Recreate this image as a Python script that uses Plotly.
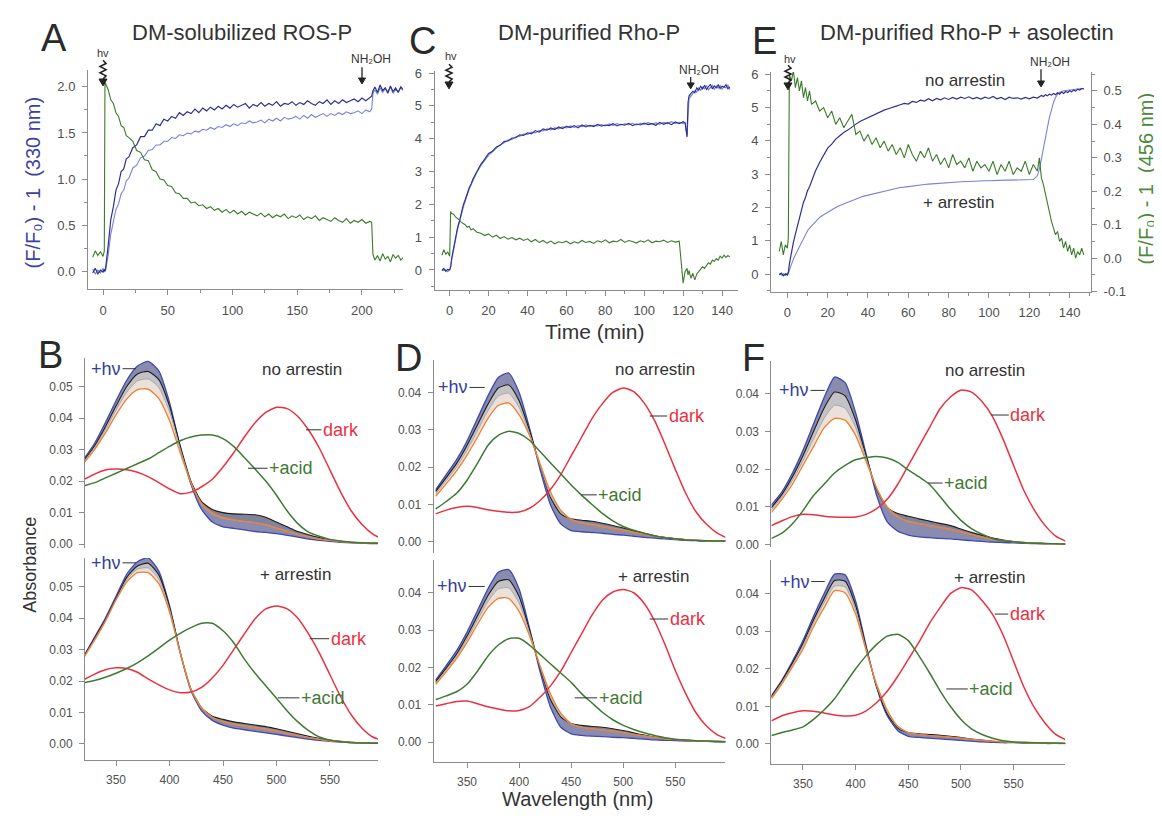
import plotly.graph_objects as go

W, H = 1162, 820
FONT = "Liberation Sans, Arial, sans-serif"
AX = "#8c8c8c"
TC = "#505050"
NAVY = "#2c318c"
LBLUE = "#7883d8"
GREEN = "#3b7b2c"
RED = "#e8323f"
ORANGE = "#f08030"
BLACK = "#1e1e1e"
GRAY = "#a8a8a8"
SBLUE = "#3f49b0"

# ---------------- time courses ----------------
a_time = [-8, -6, -4, -2, 0, 1, 1.5, 2, 4, 6,
          8, 10, 12, 14, 16, 18, 20, 23, 26, 29,
          32, 35, 38, 41, 44, 47, 50, 53, 56, 59,
          62, 65, 68, 71, 74, 77, 80, 83, 86, 89,
          92, 95, 98, 101, 104, 107, 110, 113, 116, 119,
          122, 125, 128, 131, 134, 137, 140, 143, 146, 149,
          152, 155, 158, 161, 164, 167, 170, 173, 176, 179,
          182, 185, 188, 191, 194, 197, 200, 203, 206, 207.5,
          208.5, 210, 212, 214, 216, 218, 220, 222, 224, 226,
          228, 230, 232]
a_dark = [-0.02, 0.03, -0.03, 0.01, -0.01, 0.02, 0.00, 0.03, 0.28, 0.56,
          0.70, 0.88, 0.95, 1.08, 1.11, 1.22, 1.24, 1.34, 1.37, 1.46,
          1.46, 1.53, 1.53, 1.60, 1.58, 1.65, 1.63, 1.68, 1.66, 1.72,
          1.69, 1.73, 1.71, 1.76, 1.72, 1.77, 1.74, 1.78, 1.75, 1.79,
          1.76, 1.80, 1.77, 1.81, 1.78, 1.80, 1.82, 1.77, 1.81, 1.79,
          1.83, 1.79, 1.82, 1.80, 1.84, 1.79, 1.82, 1.81, 1.84, 1.80,
          1.83, 1.81, 1.85, 1.82, 1.80, 1.84, 1.82, 1.86, 1.81, 1.85,
          1.82, 1.86, 1.83, 1.85, 1.87, 1.84, 1.88, 1.85, 1.88, 1.90,
          1.96, 2.00, 1.94, 2.02, 1.96, 1.99, 1.93, 2.01, 1.95, 1.99,
          1.94, 2.00, 1.97]
a_light = [0.02, -0.03, 0.01, -0.02, 0.03, -0.01, 0.00, 0.01, 0.18, 0.40,
           0.54, 0.67, 0.73, 0.84, 0.88, 0.98, 1.01, 1.12, 1.15, 1.23,
           1.25, 1.31, 1.32, 1.37, 1.37, 1.41, 1.41, 1.45, 1.44, 1.48,
           1.47, 1.50, 1.49, 1.52, 1.51, 1.54, 1.53, 1.56, 1.54, 1.57,
           1.56, 1.59, 1.57, 1.60, 1.58, 1.61, 1.60, 1.63, 1.61, 1.62,
           1.64, 1.61, 1.65, 1.63, 1.66, 1.63, 1.67, 1.65, 1.66, 1.68,
           1.65, 1.69, 1.66, 1.70, 1.67, 1.69, 1.71, 1.68, 1.71, 1.69,
           1.72, 1.70, 1.73, 1.71, 1.72, 1.74, 1.71, 1.75, 1.73, 1.76,
           1.93, 1.97, 1.92, 1.99, 1.94, 1.98, 1.95, 2.00, 1.93, 1.97,
           1.95, 1.99, 1.96]
a_green = [0.15, 0.22, 0.17, 0.21, 0.16, 0.22, 2.05, 2.03, 1.97, 1.86,
           1.82, 1.72, 1.68, 1.58, 1.56, 1.47, 1.45, 1.41, 1.31, 1.29,
           1.21, 1.20, 1.10, 1.08, 1.00, 0.99, 0.93, 0.92, 0.85, 0.84,
           0.79, 0.79, 0.74, 0.75, 0.71, 0.72, 0.68, 0.70, 0.66, 0.68,
           0.64, 0.67, 0.63, 0.66, 0.62, 0.65, 0.61, 0.64, 0.62, 0.60,
           0.63, 0.59, 0.62, 0.58, 0.61, 0.59, 0.62, 0.57, 0.60, 0.58,
           0.61, 0.56, 0.59, 0.57, 0.60, 0.55, 0.58, 0.56, 0.54, 0.58,
           0.55, 0.53, 0.57, 0.52, 0.55, 0.53, 0.56, 0.52, 0.54, 0.53,
           0.18, 0.12, 0.17, 0.11, 0.19, 0.13, 0.16, 0.10, 0.18, 0.14,
           0.17, 0.12, 0.15]

c_time = [-4, -3, -2, -1, 0, 0.5, 1, 2, 3, 4,
          5, 6, 7, 8, 9, 10, 11, 12, 14, 16,
          18, 20, 22, 24, 26, 28, 30, 32, 34, 36,
          38, 40, 42, 44, 46, 48, 50, 52, 54, 56,
          58, 60, 62, 64, 66, 68, 70, 72, 74, 76,
          78, 80, 82, 84, 86, 88, 90, 92, 94, 96,
          98, 100, 102, 104, 106, 108, 110, 112, 114, 116,
          118, 120, 121, 122, 122.5, 123, 124, 125, 126, 127,
          128, 129, 130, 131, 132, 133, 134, 135, 136, 137,
          138, 139, 140, 141, 142, 143, 144]
c_dark = [-0.02, 0.05, -0.04, 0.02, 0.00, 0.10, 0.35, 0.70, 1.00, 1.28,
          1.50, 1.75, 1.98, 2.15, 2.35, 2.50, 2.62, 2.78, 3.00, 3.22,
          3.38, 3.55, 3.62, 3.75, 3.80, 3.92, 3.93, 4.02, 4.03, 4.12,
          4.10, 4.18, 4.15, 4.25, 4.20, 4.30, 4.26, 4.33, 4.28, 4.36,
          4.31, 4.38, 4.34, 4.40, 4.33, 4.42, 4.36, 4.41, 4.37, 4.44,
          4.38, 4.42, 4.40, 4.46, 4.39, 4.44, 4.41, 4.47, 4.40, 4.45,
          4.42, 4.48, 4.43, 4.46, 4.41, 4.50, 4.44, 4.49, 4.43, 4.51,
          4.46, 4.52, 4.48, 4.05, 5.10, 5.30, 5.38, 5.45, 5.40, 5.55,
          5.48, 5.60, 5.52, 5.63, 5.50, 5.58, 5.66, 5.52, 5.61, 5.55,
          5.64, 5.53, 5.60, 5.57, 5.65, 5.52, 5.58]
c_light = [0.03, -0.02, 0.01, -0.05, 0.02, 0.08, 0.30, 0.65, 0.95, 1.22,
           1.45, 1.70, 1.92, 2.10, 2.30, 2.46, 2.60, 2.74, 2.98, 3.18,
           3.35, 3.50, 3.60, 3.70, 3.82, 3.88, 3.96, 3.98, 4.06, 4.08,
           4.14, 4.13, 4.20, 4.18, 4.25, 4.24, 4.30, 4.27, 4.33, 4.30,
           4.36, 4.33, 4.39, 4.35, 4.40, 4.37, 4.42, 4.38, 4.41, 4.39,
           4.43, 4.39, 4.45, 4.41, 4.46, 4.42, 4.45, 4.43, 4.47, 4.42,
           4.47, 4.44, 4.49, 4.45, 4.48, 4.44, 4.50, 4.46, 4.52, 4.47,
           4.50, 4.47, 4.50, 4.10, 5.00, 5.22, 5.30, 5.40, 5.46, 5.42,
           5.55, 5.47, 5.58, 5.52, 5.62, 5.49, 5.57, 5.63, 5.50, 5.60,
           5.54, 5.62, 5.51, 5.59, 5.55, 5.63, 5.50]
c_green = [0.45, 0.62, 0.48, 0.55, 0.42, 1.78, 1.72, 1.70, 1.62, 1.58,
           1.52, 1.45, 1.40, 1.38, 1.30, 1.33, 1.22, 1.26, 1.15, 1.12,
           1.05, 1.10, 1.00, 1.06, 0.96, 1.02, 0.94, 0.99, 0.92, 0.97,
           0.90, 0.95, 0.86, 0.93, 0.84, 0.90, 0.82, 0.88, 0.80, 0.86,
           0.83, 0.88, 0.80, 0.86, 0.82, 0.90, 0.84, 0.87, 0.81, 0.89,
           0.85, 0.92, 0.83, 0.88, 0.86, 0.93, 0.84, 0.90, 0.87, 0.82,
           0.89, 0.85, 0.92, 0.83, 0.88, 0.86, 0.91, 0.84, 0.89, 0.85,
           0.88, -0.40, -0.05, 0.05, -0.15, -0.02, -0.25, -0.10, -0.30, -0.12,
           -0.05, 0.02, 0.10, 0.05, 0.15, 0.22, 0.18, 0.30, 0.26, 0.35,
           0.30, 0.42, 0.36, 0.45, 0.38, 0.44, 0.40]

e_time = [-4, -3, -2, -1, 0, 0.5, 1, 2, 3, 4,
          5, 6, 7, 8, 9, 10, 11, 12, 14, 16,
          18, 20, 22, 24, 26, 28, 30, 32, 34, 36,
          38, 40, 42, 44, 46, 48, 50, 52, 54, 56,
          58, 60, 62, 64, 66, 68, 70, 72, 74, 76,
          78, 80, 82, 84, 86, 88, 90, 92, 94, 96,
          98, 100, 102, 104, 106, 108, 110, 112, 114, 116,
          118, 120, 122, 124, 125, 126, 127, 128, 129, 130,
          131, 132, 133, 134, 135, 136, 137, 138, 139, 140,
          141, 142, 143, 144, 145, 146, 147]
e_dark = [-0.02, 0.03, -0.05, 0.01, -0.03, 0.05, 0.30, 0.70, 0.95, 1.20,
          1.45, 1.68, 1.90, 2.15, 2.30, 2.50, 2.62, 2.80, 3.10, 3.35,
          3.55, 3.78, 3.90, 4.05, 4.15, 4.25, 4.32, 4.42, 4.50, 4.58,
          4.64, 4.70, 4.76, 4.82, 4.86, 4.92, 4.96, 5.01, 5.04, 5.08,
          5.12, 5.10, 5.18, 5.15, 5.22, 5.19, 5.26, 5.20, 5.27, 5.23,
          5.29, 5.24, 5.30, 5.25, 5.31, 5.27, 5.32, 5.26, 5.30, 5.25,
          5.31, 5.27, 5.33, 5.26, 5.30, 5.24, 5.31, 5.27, 5.29, 5.25,
          5.30, 5.26, 5.31, 5.28, 5.33, 5.36, 5.33, 5.38, 5.35, 5.40,
          5.37, 5.42, 5.38, 5.44, 5.40, 5.46, 5.42, 5.48, 5.45, 5.50,
          5.47, 5.52, 5.49, 5.55, 5.52, 5.57, 5.55]
e_light = [0.02, -0.03, 0.01, -0.04, 0.03, 0.00, 0.12, 0.30, 0.45, 0.58,
           0.70, 0.85, 0.98, 1.10, 1.22, 1.30, 1.38, 1.45, 1.58, 1.70,
           1.78, 1.86, 1.93, 2.00, 2.06, 2.11, 2.17, 2.21, 2.26, 2.30,
           2.34, 2.37, 2.40, 2.44, 2.46, 2.50, 2.52, 2.55, 2.57, 2.60,
           2.61, 2.63, 2.64, 2.66, 2.67, 2.69, 2.70, 2.71, 2.72, 2.74,
           2.74, 2.75, 2.76, 2.77, 2.77, 2.78, 2.78, 2.79, 2.79, 2.80,
           2.80, 2.80, 2.81, 2.81, 2.81, 2.82, 2.82, 2.82, 2.82, 2.83,
           2.83, 2.83, 2.84, 2.95, 3.15, 3.45, 3.80, 4.10, 4.40, 4.70,
           4.95, 5.15, 5.30, 5.40, 5.45, 5.48, 5.50, 5.51, 5.52, 5.53,
           5.53, 5.54, 5.55, 5.55, 5.56, 5.57, 5.57]
e_green = [0.02, 0.05, 0.01, 0.04, 0.03, 0.06, 0.55, 0.53, 0.56, 0.51,
           0.54, 0.50, 0.53, 0.48, 0.51, 0.47, 0.50, 0.46, 0.47, 0.44,
           0.45, 0.42, 0.44, 0.40, 0.42, 0.39, 0.41, 0.43, 0.37, 0.38,
           0.35, 0.37, 0.34, 0.36, 0.33, 0.35, 0.32, 0.34, 0.31, 0.33,
           0.30, 0.34, 0.31, 0.29, 0.32, 0.30, 0.33, 0.29, 0.31, 0.28,
           0.30, 0.27, 0.31, 0.28, 0.29, 0.27, 0.30, 0.26, 0.29, 0.27,
           0.28, 0.26, 0.29, 0.25, 0.28, 0.26, 0.29, 0.25, 0.27, 0.26,
           0.29, 0.25, 0.28, 0.26, 0.30, 0.24, 0.22, 0.19, 0.16, 0.13,
           0.11, 0.09, 0.07, 0.08, 0.05, 0.06, 0.03, 0.05, 0.02, 0.04,
           0.01, 0.03, 0.00, 0.02, 0.01, 0.03, 0.01]

# ---------------- spectra ----------------
wl = [320, 330, 340, 350, 360, 370, 380, 390, 400, 410,
      420, 430, 440, 450, 460, 470, 480, 490, 500, 510,
      520, 530, 540, 550, 560, 570, 580, 590, 600]

bu_blue = [0.0270, 0.0320, 0.0385, 0.0455, 0.0520, 0.0565, 0.0580, 0.0550, 0.0450, 0.0310,
           0.0190, 0.0110, 0.0070, 0.0055, 0.0050, 0.0045, 0.0040, 0.0037, 0.0033, 0.0028,
           0.0022, 0.0016, 0.0012, 0.0009, 0.0006, 0.0004, 0.0003, 0.0002, 0.0002]
bu_black = [0.0265, 0.0312, 0.0372, 0.0438, 0.0500, 0.0540, 0.0548, 0.0522, 0.0438, 0.0312,
            0.0200, 0.0135, 0.0110, 0.0100, 0.0096, 0.0095, 0.0093, 0.0085, 0.0070, 0.0055,
            0.0040, 0.0030, 0.0021, 0.0014, 0.0009, 0.0006, 0.0004, 0.0003, 0.0002]
bu_gray = [0.0262, 0.0306, 0.0362, 0.0425, 0.0482, 0.0518, 0.0524, 0.0497, 0.0420, 0.0302,
           0.0195, 0.0125, 0.0095, 0.0082, 0.0076, 0.0072, 0.0068, 0.0062, 0.0052, 0.0042,
           0.0032, 0.0024, 0.0017, 0.0012, 0.0008, 0.0005, 0.0004, 0.0003, 0.0002]
bu_orange = [0.0258, 0.0300, 0.0352, 0.0410, 0.0460, 0.0490, 0.0492, 0.0462, 0.0392, 0.0290,
             0.0195, 0.0130, 0.0100, 0.0085, 0.0078, 0.0072, 0.0068, 0.0060, 0.0050, 0.0040,
             0.0030, 0.0022, 0.0016, 0.0012, 0.0008, 0.0005, 0.0004, 0.0003, 0.0002]
bu_dark = [0.0205, 0.0222, 0.0235, 0.0238, 0.0236, 0.0228, 0.0214, 0.0195, 0.0175, 0.0160,
           0.0165, 0.0182, 0.0206, 0.0245, 0.0290, 0.0340, 0.0385, 0.0418, 0.0434, 0.0430,
           0.0405, 0.0362, 0.0305, 0.0235, 0.0165, 0.0105, 0.0062, 0.0032, 0.0015]
bu_acid = [0.0185, 0.0195, 0.0210, 0.0225, 0.0240, 0.0255, 0.0270, 0.0290, 0.0310, 0.0328,
           0.0340, 0.0346, 0.0346, 0.0335, 0.0310, 0.0275, 0.0238, 0.0200, 0.0155, 0.0105,
           0.0065, 0.0038, 0.0025, 0.0015, 0.0010, 0.0006, 0.0004, 0.0003, 0.0002]

bl_blue = [0.0280, 0.0340, 0.0400, 0.0470, 0.0540, 0.0580, 0.0592, 0.0550, 0.0440, 0.0290,
           0.0170, 0.0105, 0.0075, 0.0060, 0.0050, 0.0045, 0.0040, 0.0035, 0.0030, 0.0025,
           0.0020, 0.0015, 0.0011, 0.0008, 0.0006, 0.0004, 0.0003, 0.0002, 0.0002]
bl_black = [0.0278, 0.0336, 0.0394, 0.0462, 0.0530, 0.0566, 0.0575, 0.0538, 0.0436, 0.0292,
            0.0175, 0.0115, 0.0088, 0.0078, 0.0070, 0.0065, 0.0060, 0.0055, 0.0048, 0.0040,
            0.0032, 0.0024, 0.0017, 0.0012, 0.0008, 0.0005, 0.0004, 0.0003, 0.0002]
bl_gray = [0.0276, 0.0333, 0.0391, 0.0459, 0.0522, 0.0556, 0.0560, 0.0524, 0.0428, 0.0290,
           0.0173, 0.0112, 0.0084, 0.0072, 0.0064, 0.0058, 0.0053, 0.0048, 0.0042, 0.0035,
           0.0028, 0.0021, 0.0015, 0.0010, 0.0007, 0.0005, 0.0004, 0.0003, 0.0002]
bl_orange = [0.0275, 0.0330, 0.0390, 0.0458, 0.0515, 0.0545, 0.0545, 0.0510, 0.0420, 0.0290,
             0.0175, 0.0115, 0.0085, 0.0070, 0.0062, 0.0056, 0.0050, 0.0045, 0.0040, 0.0033,
             0.0026, 0.0020, 0.0015, 0.0010, 0.0007, 0.0005, 0.0003, 0.0002, 0.0002]
bl_dark = [0.0204, 0.0222, 0.0236, 0.0242, 0.0240, 0.0228, 0.0207, 0.0188, 0.0172, 0.0163,
           0.0165, 0.0180, 0.0210, 0.0250, 0.0300, 0.0350, 0.0398, 0.0430, 0.0439, 0.0430,
           0.0400, 0.0350, 0.0290, 0.0220, 0.0150, 0.0092, 0.0050, 0.0022, 0.0010]
bl_acid = [0.0195, 0.0202, 0.0212, 0.0225, 0.0240, 0.0258, 0.0280, 0.0305, 0.0330, 0.0352,
           0.0370, 0.0384, 0.0384, 0.0360, 0.0322, 0.0270, 0.0225, 0.0185, 0.0145, 0.0105,
           0.0070, 0.0042, 0.0022, 0.0012, 0.0007, 0.0004, 0.0003, 0.0002, 0.0002]

du_blue = [0.0140, 0.0180, 0.0220, 0.0270, 0.0330, 0.0390, 0.0440, 0.0452, 0.0400, 0.0305,
           0.0195, 0.0100, 0.0048, 0.0030, 0.0027, 0.0025, 0.0023, 0.0020, 0.0018, 0.0015,
           0.0012, 0.0010, 0.0008, 0.0006, 0.0004, 0.0003, 0.0002, 0.0002, 0.0002]
du_black = [0.0135, 0.0172, 0.0210, 0.0258, 0.0313, 0.0368, 0.0412, 0.0420, 0.0378, 0.0298,
            0.0205, 0.0120, 0.0075, 0.0062, 0.0058, 0.0055, 0.0050, 0.0044, 0.0037, 0.0030,
            0.0023, 0.0017, 0.0012, 0.0009, 0.0006, 0.0004, 0.0003, 0.0002, 0.0002]
du_gray = [0.0128, 0.0164, 0.0200, 0.0245, 0.0297, 0.0350, 0.0390, 0.0398, 0.0360, 0.0290,
           0.0205, 0.0125, 0.0080, 0.0060, 0.0052, 0.0047, 0.0042, 0.0037, 0.0032, 0.0026,
           0.0020, 0.0015, 0.0011, 0.0008, 0.0006, 0.0004, 0.0003, 0.0002, 0.0002]
du_orange = [0.0122, 0.0155, 0.0190, 0.0232, 0.0280, 0.0330, 0.0365, 0.0372, 0.0340, 0.0285,
             0.0210, 0.0135, 0.0085, 0.0060, 0.0050, 0.0045, 0.0040, 0.0035, 0.0030, 0.0025,
             0.0020, 0.0015, 0.0011, 0.0008, 0.0006, 0.0004, 0.0003, 0.0002, 0.0002]
du_dark = [0.0075, 0.0085, 0.0092, 0.0095, 0.0092, 0.0086, 0.0082, 0.0079, 0.0080, 0.0090,
           0.0110, 0.0140, 0.0180, 0.0230, 0.0280, 0.0330, 0.0370, 0.0400, 0.0412, 0.0402,
           0.0372, 0.0325, 0.0262, 0.0194, 0.0130, 0.0080, 0.0047, 0.0024, 0.0010]
du_acid = [0.0088, 0.0108, 0.0130, 0.0165, 0.0210, 0.0258, 0.0285, 0.0296, 0.0290, 0.0272,
           0.0242, 0.0212, 0.0182, 0.0152, 0.0125, 0.0100, 0.0076, 0.0056, 0.0041, 0.0031,
           0.0023, 0.0016, 0.0011, 0.0008, 0.0005, 0.0004, 0.0003, 0.0002, 0.0002]

dl_blue = [0.0167, 0.0205, 0.0245, 0.0295, 0.0352, 0.0410, 0.0455, 0.0462, 0.0410, 0.0305,
           0.0190, 0.0095, 0.0040, 0.0022, 0.0018, 0.0016, 0.0015, 0.0013, 0.0012, 0.0010,
           0.0008, 0.0006, 0.0005, 0.0004, 0.0003, 0.0002, 0.0002, 0.0001, 0.0001]
dl_black = [0.0162, 0.0198, 0.0236, 0.0284, 0.0338, 0.0392, 0.0430, 0.0435, 0.0390, 0.0300,
            0.0200, 0.0115, 0.0068, 0.0050, 0.0045, 0.0042, 0.0040, 0.0036, 0.0031, 0.0025,
            0.0019, 0.0014, 0.0010, 0.0007, 0.0005, 0.0003, 0.0002, 0.0002, 0.0001]
dl_gray = [0.0158, 0.0193, 0.0230, 0.0275, 0.0326, 0.0376, 0.0410, 0.0413, 0.0372, 0.0293,
           0.0203, 0.0122, 0.0072, 0.0048, 0.0040, 0.0036, 0.0033, 0.0030, 0.0026, 0.0021,
           0.0017, 0.0013, 0.0009, 0.0007, 0.0005, 0.0003, 0.0002, 0.0002, 0.0001]
dl_orange = [0.0155, 0.0188, 0.0224, 0.0267, 0.0315, 0.0360, 0.0385, 0.0385, 0.0350, 0.0285,
             0.0205, 0.0130, 0.0078, 0.0050, 0.0040, 0.0035, 0.0032, 0.0029, 0.0025, 0.0021,
             0.0017, 0.0013, 0.0009, 0.0007, 0.0005, 0.0003, 0.0002, 0.0002, 0.0001]
dl_dark = [0.0097, 0.0103, 0.0109, 0.0110, 0.0103, 0.0095, 0.0089, 0.0084, 0.0085, 0.0095,
           0.0120, 0.0150, 0.0190, 0.0240, 0.0290, 0.0340, 0.0380, 0.0402, 0.0409, 0.0400,
           0.0372, 0.0325, 0.0262, 0.0192, 0.0130, 0.0078, 0.0043, 0.0020, 0.0008]
dl_acid = [0.0114, 0.0124, 0.0135, 0.0155, 0.0190, 0.0230, 0.0260, 0.0277, 0.0278, 0.0260,
           0.0235, 0.0210, 0.0185, 0.0160, 0.0130, 0.0105, 0.0080, 0.0060, 0.0045, 0.0034,
           0.0025, 0.0018, 0.0012, 0.0008, 0.0006, 0.0004, 0.0003, 0.0002, 0.0002]

fu_blue = [0.0105, 0.0140, 0.0190, 0.0250, 0.0320, 0.0390, 0.0445, 0.0430, 0.0350, 0.0240,
           0.0130, 0.0060, 0.0035, 0.0025, 0.0020, 0.0018, 0.0016, 0.0015, 0.0012, 0.0010,
           0.0008, 0.0006, 0.0005, 0.0004, 0.0003, 0.0002, 0.0002, 0.0002, 0.0001]
fu_black = [0.0098, 0.0133, 0.0180, 0.0236, 0.0300, 0.0362, 0.0405, 0.0395, 0.0330, 0.0235,
            0.0145, 0.0098, 0.0082, 0.0075, 0.0068, 0.0062, 0.0056, 0.0050, 0.0041, 0.0032,
            0.0024, 0.0017, 0.0012, 0.0008, 0.0005, 0.0004, 0.0003, 0.0002, 0.0001]
fu_gray = [0.0092, 0.0126, 0.0170, 0.0222, 0.0280, 0.0335, 0.0370, 0.0362, 0.0310, 0.0228,
           0.0148, 0.0095, 0.0072, 0.0062, 0.0056, 0.0051, 0.0046, 0.0041, 0.0034, 0.0027,
           0.0020, 0.0014, 0.0010, 0.0007, 0.0005, 0.0003, 0.0002, 0.0002, 0.0001]
fu_orange = [0.0085, 0.0120, 0.0160, 0.0210, 0.0260, 0.0310, 0.0335, 0.0330, 0.0290, 0.0220,
             0.0150, 0.0100, 0.0075, 0.0060, 0.0055, 0.0050, 0.0045, 0.0040, 0.0033, 0.0026,
             0.0020, 0.0014, 0.0010, 0.0007, 0.0005, 0.0003, 0.0002, 0.0002, 0.0001]
fu_dark = [0.0050, 0.0063, 0.0074, 0.0080, 0.0079, 0.0075, 0.0073, 0.0072, 0.0073, 0.0080,
           0.0095, 0.0120, 0.0160, 0.0210, 0.0260, 0.0310, 0.0360, 0.0392, 0.0410, 0.0405,
           0.0380, 0.0340, 0.0280, 0.0210, 0.0142, 0.0090, 0.0050, 0.0022, 0.0008]
fu_acid = [0.0016, 0.0030, 0.0055, 0.0090, 0.0130, 0.0160, 0.0190, 0.0210, 0.0225, 0.0231,
           0.0234, 0.0230, 0.0218, 0.0198, 0.0180, 0.0160, 0.0128, 0.0094, 0.0064, 0.0042,
           0.0027, 0.0016, 0.0010, 0.0007, 0.0005, 0.0003, 0.0002, 0.0002, 0.0001]

fl_blue = [0.0128, 0.0170, 0.0220, 0.0275, 0.0340, 0.0400, 0.0452, 0.0450, 0.0380, 0.0260,
           0.0150, 0.0075, 0.0035, 0.0020, 0.0017, 0.0015, 0.0013, 0.0011, 0.0009, 0.0007,
           0.0005, 0.0004, 0.0003, 0.0003, 0.0002, 0.0002, 0.0001, 0.0001, 0.0001]
fl_black = [0.0125, 0.0167, 0.0215, 0.0268, 0.0330, 0.0386, 0.0435, 0.0433, 0.0368, 0.0256,
            0.0152, 0.0080, 0.0042, 0.0030, 0.0027, 0.0025, 0.0023, 0.0020, 0.0017, 0.0013,
            0.0010, 0.0007, 0.0005, 0.0004, 0.0003, 0.0002, 0.0002, 0.0001, 0.0001]
fl_gray = [0.0123, 0.0164, 0.0210, 0.0260, 0.0322, 0.0375, 0.0420, 0.0418, 0.0356, 0.0252,
           0.0154, 0.0085, 0.0045, 0.0030, 0.0025, 0.0022, 0.0020, 0.0018, 0.0015, 0.0012,
           0.0009, 0.0007, 0.0005, 0.0004, 0.0003, 0.0002, 0.0002, 0.0001, 0.0001]
fl_orange = [0.0120, 0.0160, 0.0205, 0.0252, 0.0312, 0.0362, 0.0408, 0.0402, 0.0345, 0.0248,
             0.0158, 0.0090, 0.0047, 0.0030, 0.0025, 0.0022, 0.0020, 0.0018, 0.0015, 0.0012,
             0.0009, 0.0007, 0.0005, 0.0004, 0.0003, 0.0002, 0.0002, 0.0001, 0.0001]
fl_dark = [0.0061, 0.0075, 0.0083, 0.0088, 0.0087, 0.0082, 0.0077, 0.0074, 0.0076, 0.0088,
           0.0110, 0.0140, 0.0180, 0.0225, 0.0270, 0.0320, 0.0362, 0.0400, 0.0416, 0.0410,
           0.0382, 0.0345, 0.0290, 0.0220, 0.0150, 0.0095, 0.0055, 0.0025, 0.0010]
fl_acid = [0.0022, 0.0030, 0.0037, 0.0045, 0.0065, 0.0090, 0.0120, 0.0160, 0.0200, 0.0235,
           0.0265, 0.0287, 0.0292, 0.0275, 0.0235, 0.0190, 0.0142, 0.0100, 0.0065, 0.0040,
           0.0025, 0.0015, 0.0008, 0.0005, 0.0004, 0.0003, 0.0002, 0.0002, 0.0001]

# tick labels
a_xticks = [0, 50, 100, 150, 200]
a_yticks = [0.0, 0.5, 1.0, 1.5, 2.0]
ce_xticks = [0, 20, 40, 60, 80, 100, 120, 140]
ce_yticks = [0, 1, 2, 3, 4, 5, 6]
e_rticks = [-0.1, 0.0, 0.1, 0.2, 0.3, 0.4, 0.5]
wl_ticks = [350, 400, 450, 500, 550]
abs_ticks_b = [0.00, 0.01, 0.02, 0.03, 0.04, 0.05]
abs_ticks_df = [0.00, 0.01, 0.02, 0.03, 0.04]


def px(x):
    return x / W


def py(y):
    return 1 - y / H


fig = go.Figure()


def line(x, y, color, ax, width=1.2, fill=None, fillcolor=None, shape="linear", yax=None):
    assert len(x) == len(y), (len(x), len(y))
    fig.add_trace(go.Scatter(
        x=x, y=y, mode="lines",
        line=dict(color=color, width=width, shape=shape, smoothing=0.6 if shape == "spline" else None),
        xaxis="x" + ("" if ax == 1 else str(ax)),
        yaxis=yax if yax else "y" + ("" if ax == 1 else str(ax)),
        fill=fill, fillcolor=fillcolor, showlegend=False, hoverinfo="skip"))


# top panels
line(a_time, a_light, LBLUE, 1, 1.1)
line(a_time, a_dark, NAVY, 1, 1.2)
line(a_time, a_green, GREEN, 1, 1.1)
line(c_time, c_light, LBLUE, 2, 1.2)
line(c_time, c_dark, NAVY, 2, 1.1)
line(c_time, c_green, GREEN, 2, 1.1)
line(e_time, e_light, LBLUE, 3, 1.1)
line(e_time, e_dark, NAVY, 3, 1.2)
line(e_time, e_green, GREEN, 3, 1.1, yax="y10")

spectra = [
    (4, bu_blue, bu_black, bu_gray, bu_orange, bu_dark, bu_acid),
    (5, bl_blue, bl_black, bl_gray, bl_orange, bl_dark, bl_acid),
    (6, du_blue, du_black, du_gray, du_orange, du_dark, du_acid),
    (7, dl_blue, dl_black, dl_gray, dl_orange, dl_dark, dl_acid),
    (8, fu_blue, fu_black, fu_gray, fu_orange, fu_dark, fu_acid),
    (9, fl_blue, fl_black, fl_gray, fl_orange, fl_dark, fl_acid),
]
for ax, sb, sk, sg, so, sd, sa in spectra:
    line(wl, sb, SBLUE, ax, 1.3, shape="spline")
    line(wl, sk, BLACK, ax, 1.1, shape="spline", fill="tonexty", fillcolor="rgba(40,44,110,0.55)")
    line(wl, sg, GRAY, ax, 1.0, shape="spline", fill="tonexty", fillcolor="rgba(120,120,130,0.45)")
    line(wl, so, ORANGE, ax, 1.3, shape="spline", fill="tonexty", fillcolor="rgba(200,170,150,0.35)")
    line(wl, sd, RED, ax, 1.5, shape="spline")
    line(wl, sa, "#3f7a35", ax, 1.5, shape="spline")


def axis(dom, rng, tickvals=None, ticktext=None, show=True, anchor=None, minor=None,
         side=None, overlaying=None, fsize=13, ticks=True):
    d = dict(domain=dom, range=rng, showgrid=False, zeroline=False,
             showline=show, linecolor=AX, linewidth=1,
             ticks="outside" if (show and ticks) else "", ticklen=5, tickcolor=AX, tickwidth=1,
             tickfont=dict(size=fsize, color=TC, family=FONT),
             showticklabels=show and tickvals is not None,
             visible=show, fixedrange=True)
    if tickvals is not None:
        d["tickmode"] = "array"
        d["tickvals"] = tickvals
        if ticktext is not None:
            d["ticktext"] = ticktext
    if anchor:
        d["anchor"] = anchor
    if minor:
        d["minor"] = dict(dtick=minor, ticks="outside", ticklen=3, tickcolor=AX, tickwidth=1)
    if side:
        d["side"] = side
    if overlaying:
        d["overlaying"] = overlaying
    d["ticklabelstandoff"] = 4
    return d


def xd(a, b):
    return [px(a), px(b)]


def yd(top, bot):
    return [py(bot), py(top)]


fmt1 = ["%.1f" % v for v in a_yticks]
fmt2b = ["%.2f" % v for v in abs_ticks_b]
fmt2d = ["%.2f" % v for v in abs_ticks_df]
fmtr = ["%.1f" % v for v in e_rticks]

lay = {}
lay["xaxis"] = axis(xd(80, 395), [-11.6, 231.7], a_xticks, anchor="y", minor=25)
lay["yaxis"] = axis(yd(58, 280), [-0.193, 2.182], a_yticks, fmt1, anchor="x", minor=0.25)
lay["xaxis2"] = axis(xd(426.7, 730), [-7.7, 148.2], ce_xticks, anchor="y2", minor=10)
lay["yaxis2"] = axis(yd(59, 281), [-0.606, 6.06], ce_yticks, anchor="x2", minor=0.5)
lay["xaxis3"] = axis(xd(763, 1083), [-8.1, 150.6], ce_xticks, anchor="y3", minor=10)
lay["yaxis3"] = axis(yd(60, 283), [-0.532, 6.06], ce_yticks, anchor="x3", minor=0.5)
lay["yaxis10"] = axis(yd(60, 283), [-0.1006, 0.5562], e_rticks, fmtr, anchor="x3",
                      side="right", overlaying="y3", minor=0.05)

lay["xaxis4"] = axis(xd(77, 370), [321.0, 594.9], None, show=False, anchor="y4")
lay["yaxis4"] = axis(yd(350, 543), [-0.00125, 0.0591], abs_ticks_b, fmt2b, anchor="x4", fsize=12)
lay["xaxis5"] = axis(xd(77, 370), [321.0, 594.9], wl_ticks, anchor="y5", fsize=12)
lay["yaxis5"] = axis(yd(553, 758), [-0.0051, 0.0592], abs_ticks_b, fmt2b, anchor="x5", fsize=12)

lay["xaxis6"] = axis(xd(425.7, 717.3), [318, 598], None, show=False, anchor="y6")
lay["yaxis6"] = axis(yd(351.7, 548), [-0.00298, 0.0488], abs_ticks_df, fmt2d, anchor="x6", fsize=12)
lay["xaxis7"] = axis(xd(425.7, 717.3), [318, 598], wl_ticks, anchor="y7", fsize=12)
lay["yaxis7"] = axis(yd(555, 760), [-0.00528, 0.0488], abs_ticks_df, fmt2d, anchor="x7", fsize=12)

lay["xaxis8"] = axis(xd(763.4, 1057.2), [320, 599], None, show=False, anchor="y8")
lay["yaxis8"] = axis(yd(353, 542), [-0.0007, 0.0488], abs_ticks_df, fmt2d, anchor="x8", fsize=12)
lay["xaxis9"] = axis(xd(763.4, 1057.2), [320, 599], wl_ticks, anchor="y9", fsize=12)
lay["yaxis9"] = axis(yd(555, 761.7), [-0.00525, 0.049], abs_ticks_df, fmt2d, anchor="x9", fsize=12)

fig.update_layout(**lay)

ann = []


def text(x, y, s, size=17, color="#333333", angle=0, xanchor="center"):
    ann.append(dict(x=px(x), y=py(y), xref="paper", yref="paper", text=s, showarrow=False,
                    font=dict(size=size, color=color, family=FONT), textangle=angle,
                    xanchor=xanchor, yanchor="middle"))


def lead(tx, ty, s, dx, color, size=18):
    ann.append(dict(x=px(tx), y=py(ty), xref="paper", yref="paper", text=s, showarrow=True,
                    arrowhead=0, arrowwidth=1, arrowcolor="#333333", ax=dx, ay=0, standoff=0,
                    font=dict(size=size, color=color, family=FONT)))


# panel letters
for L, x, y in [("A", 46, 25), ("C", 414, 28), ("E", 756, 28), ("B", 42, 347), ("D", 400, 350), ("F", 745, 350)]:
    text(x, y, L, size=38, color="#2a2a2a")

# titles
text(234, 20, "DM-solubilized ROS-P", 22, "#333333")
text(581, 20, "DM-purified Rho-P", 22, "#333333")
text(959, 20, "DM-purified Rho-P + asolectin", 22, "#333333")

# axis titles
text(25, 172, "(F/F₀) - 1  (330 nm)", 20, "#3c42a0", angle=-90)
text(1138, 168, "(F/F₀) - 1  (456 nm)", 20, "#4a8a3a", angle=-90)
text(587, 323, "Time (min)", 21, "#333333")
text(22, 560, "Absorbance", 18, "#333333", angle=-90)
text(570, 798, "Wavelength (nm)", 20, "#333333")

# hv / NH2OH labels
text(95, 41, "hv", 11, "#333333")
text(443, 44, "hv", 11, "#333333")
text(782, 47, "hv", 11, "#333333")
text(363, 47, "NH₂OH", 12, "#333333")
text(691, 58, "NH₂OH", 12, "#333333")
text(1042, 50, "NH₂OH", 12, "#333333")
text(956.7, 68, "no arrestin", 17)
text(950, 192, "+ arrestin", 17)

# spectra labels
HVC = "#343c9c"
for tip, cx in [((128, 361), 98), ((128, 558), 98), ((476.7, 380), 445), ((476.7, 582), 444),
                ((816.7, 383), 786), ((816.7, 577), 786.7)]:
    lead(tip[0], tip[1], "+hν", cx - tip[0], HVC)
for (x, y), dx in [((298, 423), 35), ((301.7, 635), 39), ((641.7, 409), 37), ((641.7, 615), 38),
                   ((983.3, 408), 37), ((986.7, 610), 33)]:
    lead(x, y, "dark", dx, RED)
for (x, y), dx in [((240, 462), 43), ((270, 695), 45), ((573.3, 489), 39), ((566.7, 695), 46),
                   ((920, 477), 38), ((938.3, 686), 45)]:
    lead(x, y, "+acid", dx, "#3f7a35")
text(294, 362, "no arrestin", 17)
text(287, 570, "+ arrestin", 17)
text(646.7, 362, "no arrestin", 17)
text(645, 572, "+ arrestin", 17)
text(976.7, 363, "no arrestin", 17)
text(981.7, 573, "+ arrestin", 17)

shapes = []


def squiggle(x, y0, y1):
    pts = []
    n = 6
    yend = y1 - 7
    for i in range(n + 1):
        yy = y0 + (yend - y0) * i / n
        xx = x + (3 if i % 2 else -3) if 0 < i < n else x
        pts.append((xx, yy))
    path = "M " + " L ".join("%f,%f" % (px(a), py(b)) for a, b in pts)
    shapes.append(dict(type="path", path=path, xref="paper", yref="paper",
                       line=dict(color="#222222", width=1.6)))
    tri = "M %f,%f L %f,%f L %f,%f Z" % (px(x - 4), py(yend), px(x + 4), py(yend), px(x), py(y1))
    shapes.append(dict(type="path", path=tri, xref="paper", yref="paper",
                       fillcolor="#222222", line=dict(color="#222222", width=1)))


def arrow(x, y0, y1):
    shapes.append(dict(type="line", x0=px(x), x1=px(x), y0=py(y0), y1=py(y1 - 5),
                       xref="paper", yref="paper", line=dict(color="#222222", width=1.3)))
    tri = "M %f,%f L %f,%f L %f,%f Z" % (px(x - 3.5), py(y1 - 6), px(x + 3.5), py(y1 - 6), px(x), py(y1))
    shapes.append(dict(type="path", path=tri, xref="paper", yref="paper",
                       fillcolor="#222222", line=dict(color="#222222", width=1)))


squiggle(95, 48, 74)
squiggle(441, 52, 77)
squiggle(780, 53, 78)
arrow(354, 55, 72)
arrow(682.7, 65, 77)
arrow(1033, 57, 75)

fig.update_layout(
    width=W, height=H, margin=dict(l=0, r=0, t=0, b=0),
    paper_bgcolor="white", plot_bgcolor="rgba(0,0,0,0)",
    showlegend=False, annotations=ann, shapes=shapes,
    font=dict(family=FONT),
)
fig.write_html("out.html")
